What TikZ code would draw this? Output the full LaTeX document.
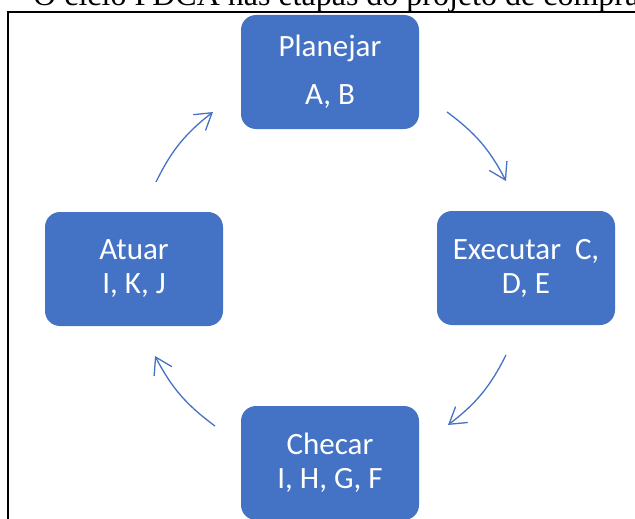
\documentclass[tikz,border=0pt]{standalone}
\usepackage{fontspec}
\setmainfont{Carlito}
\newfontfamily\titlefont{Liberation Serif}
\usetikzlibrary{arrows.meta}
\definecolor{pdcablue}{HTML}{4472C4}
\tikzstyle{etapa} = [rectangle, rounded corners=15pt, minimum width=178pt, minimum height=114pt, text centered, align=center, fill=pdcablue, text=white, inner sep=0pt, font=\fontsize{31}{34}\selectfont]
\tikzstyle{ciclo} = [draw=pdcablue, line width=1.3pt, -{Straight Barb[length=16pt,width=20pt]}, bend left=13]

\begin{document}
\begin{tikzpicture}[x=1pt, y=-1pt]
		\useasboundingbox (0,0) rectangle (635,519);
		\node (titulo) [anchor=base west, inner sep=0pt, font=\titlefont\fontsize{32}{38}\selectfont] at (33,6) {O ciclo PDCA nas etapas do projeto de compra};
		\draw [line width=1.5pt] (8,12) rectangle (650,535);
		\node (plan) [etapa] at (330,72) {Planejar\\[14pt]A, B};
		\node (exec) [etapa] at (526,268) {Executar\ \ C,\\D, E};
		\node (atuar) [etapa] at (134,269) {Atuar\\I, K, J};
		\node (checar) [etapa] at (330,463) {Checar\\I, H, G, F};
		% pontas das setas do ciclo
		\coordinate (p1) at (447,112); \coordinate (e1) at (506,181);
		\coordinate (e2) at (506,355); \coordinate (c1) at (448,425);
		\coordinate (c2) at (215,426); \coordinate (a1) at (155,356);
		\coordinate (a2) at (156,182); \coordinate (p2) at (213,112);
		\draw [ciclo] (p1) to (e1);
		\draw [ciclo] (e2) to (c1);
		\draw [ciclo] (c2) to (a1);
		\draw [ciclo] (a2) to (p2);
	\end{tikzpicture}
\end{document}
